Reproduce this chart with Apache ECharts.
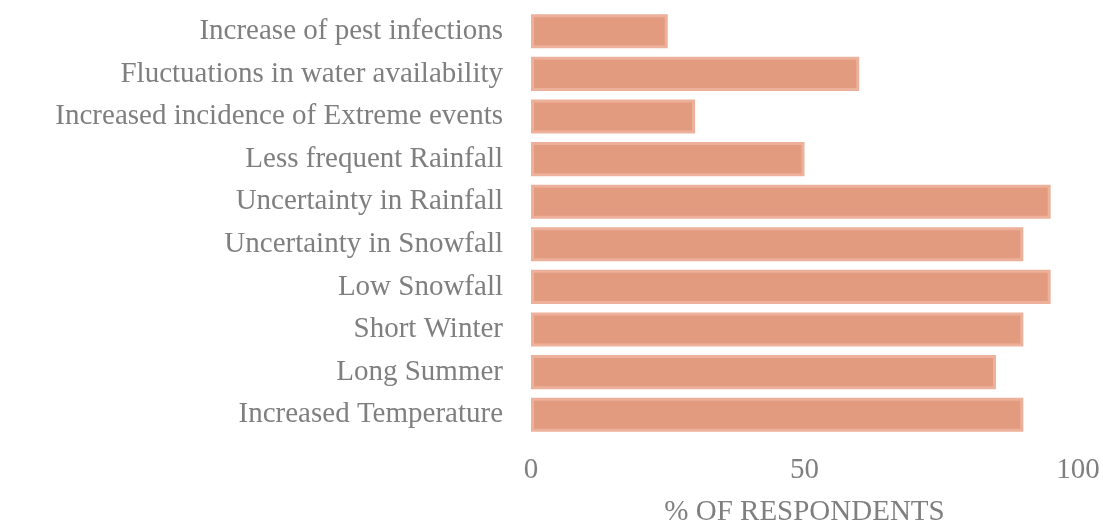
<!DOCTYPE html>
<html>
<head>
<meta charset="utf-8">
<script src="https://cdn.jsdelivr.net/npm/echarts@6/dist/echarts.min.js"></script>
<style>
    html,body{margin:0;padding:0;background:#fff;}
    #chart{width:1103px;height:524px;}
</style>
</head>
<body>
<div id="chart"></div>
<script>
    // categories bottom -> top (category axis on y starts from bottom)
    var categories = [
        'Increased Temperature',
        'Long Summer',
        'Short Winter',
        'Low Snowfall',
        'Uncertainty in Snowfall',
        'Uncertainty in Rainfall',
        'Less frequent Rainfall',
        'Increased incidence of Extreme events',
        'Fluctuations in water availability',
        'Increase of pest infections'
    ];
    var respondents = [90, 85, 90, 95, 90, 95, 50, 30, 60, 25];
    var xTicks = [0, 50, 100];

    var chart = echarts.init(document.getElementById('chart'));
    var font = '"Liberation Serif", "Times New Roman", serif';
    var option = {
        animation: false,
        grid: {
            left: 531,
            right: 25,
            top: 10,
            bottom: 88,
            containLabel: false,
            outerBoundsMode: 'none'
        },
        xAxis: {
            type: 'value',
            min: 0,
            max: 100,
            interval: 50,
            name: '% OF RESPONDENTS',
            nameLocation: 'middle',
            nameGap: 62,
            nameTextStyle: {
                color: '#7f7f7f',
                fontFamily: font,
                fontSize: 29
            },
            axisLine: {show: false},
            axisTick: {show: false},
            splitLine: {show: false},
            axisLabel: {
                color: '#7f7f7f',
                fontFamily: font,
                fontSize: 29,
                margin: 20,
                formatter: function(v){
                    return xTicks.indexOf(v) >= 0 ? String(v) : '';
                }
            }
        },
        yAxis: {
            type: 'category',
            data: categories,
            axisLine: {show: false},
            axisTick: {show: false},
            splitLine: {show: false},
            axisLabel: {
                color: '#7f7f7f',
                fontFamily: font,
                fontSize: 29,
                margin: 28
            }
        },
        series: [{
            type: 'bar',
            data: respondents,
            barCategoryGap: '20%',
            itemStyle: {
                color: '#e39b80',
                borderColor: '#edb19b',
                borderWidth: 3
            }
        }]
    };
    chart.setOption(option);
</script>
</body>
</html>
